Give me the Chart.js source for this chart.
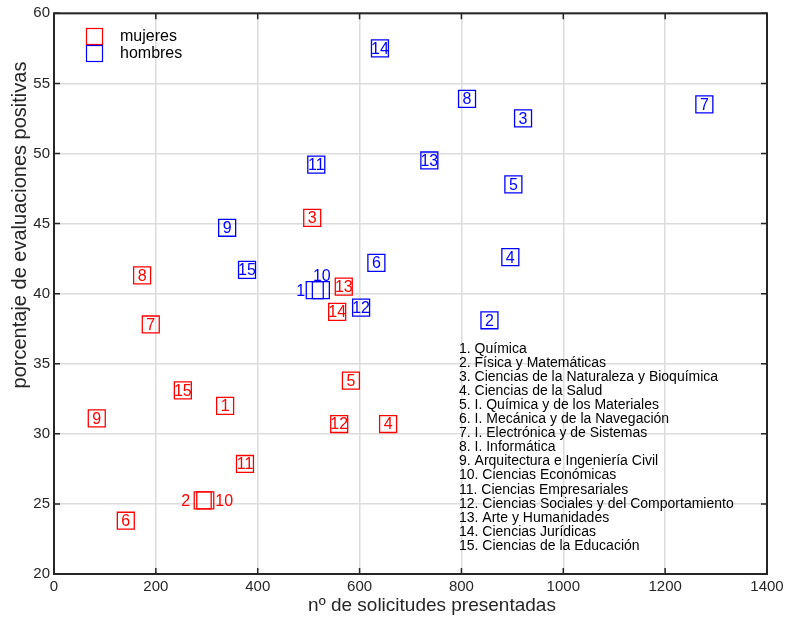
<!DOCTYPE html>
<html>
<head>
<meta charset="utf-8">
<script src="https://cdn.jsdelivr.net/npm/chart.js@4.4.0/dist/chart.umd.min.js"></script>
<style>
html, body { margin: 0; padding: 0; background: #fff; }
canvas { display: block; }
</style>
</head>
<body>
<canvas id="chart" width="790" height="621"></canvas>
<script>
// areas, numbered 1..15 in this order
const categories = [
	'Química',
	'Física y Matemáticas',
	'Ciencias de la Naturaleza y Bioquímica',
	'Ciencias de la Salud',
	'I. Química y de los Materiales',
	'I. Mecánica y de la Navegación',
	'I. Electrónica y de Sistemas',
	'I. Informática',
	'Arquitectura e Ingeniería Civil',
	'Ciencias Económicas',
	'Ciencias Empresariales',
	'Ciencias Sociales y del Comportamiento',
	'Arte y Humanidades',
	'Ciencias Jurídicas',
	'Ciencias de la Educación'
];

const mujeresSolicitudes = [336, 292, 507, 656, 583, 141, 190, 173, 84, 297, 375, 560, 569, 556, 253];
const mujeresPositivas   = [32.0, 25.25, 45.4, 30.7, 33.8, 23.8, 37.8, 41.3, 31.1, 25.25, 27.85, 30.7, 40.5, 38.7, 33.1];

const hombresSolicitudes = [512, 855, 921, 896, 902, 633, 1277, 811, 340, 524, 515, 603, 737, 640, 379];
const hombresPositivas   = [40.25, 38.1, 52.5, 42.6, 47.8, 42.2, 53.5, 53.9, 44.7, 40.25, 49.2, 39.0, 49.5, 57.5, 41.7];

const seriesNames = ['mujeres', 'hombres'];
const seriesColors = ['#ff0000', '#0000ff'];

const xTitle = 'nº de solicitudes presentadas';
const yTitle = 'porcentaje de evaluaciones positivas';

// a few labels sit beside their marker where two markers overlap
const labelShift = [
	{1: [-17, 0], 9: [19, 0]},
	{0: [-14, 0], 9: [1, -15]}
];

const FONT = "'Liberation Sans', Arial, sans-serif";

function toPoints(xs, ys){
	return xs.map((x, i) => ({x: x, y: ys[i]}));
}

const frame = {
	id: 'frame',
	afterDraw(chart){
		const ctx = chart.ctx;
		const a = chart.chartArea;
		ctx.save();
		ctx.strokeStyle = '#262626';
		ctx.lineWidth = 2;
		ctx.strokeRect(a.left, a.top, a.right - a.left, a.bottom - a.top);
		ctx.lineWidth = 1.5;
		ctx.beginPath();
		chart.scales.x.ticks.forEach((t) => {
			const px = chart.scales.x.getPixelForValue(t.value);
			ctx.moveTo(px, a.bottom); ctx.lineTo(px, a.bottom - 6);
			ctx.moveTo(px, a.top); ctx.lineTo(px, a.top + 6);
		});
		chart.scales.y.ticks.forEach((t) => {
			const py = chart.scales.y.getPixelForValue(t.value);
			ctx.moveTo(a.left, py); ctx.lineTo(a.left + 6, py);
			ctx.moveTo(a.right, py); ctx.lineTo(a.right - 6, py);
		});
		ctx.stroke();

		// axis titles (they sit a little off-centre in the original)
		ctx.fillStyle = '#262626';
		ctx.textAlign = 'center';
		ctx.textBaseline = 'middle';
		ctx.font = '19px ' + FONT;
		ctx.fillText(xTitle, 432, 606);
		ctx.translate(20, 225);
		ctx.rotate(-Math.PI / 2);
		ctx.font = '20px ' + FONT;
		ctx.fillText(yTitle, 0, 0);
		ctx.restore();
	}
};

const markLabels = {
	id: 'markLabels',
	afterDatasetsDraw(chart){
		const ctx = chart.ctx;
		ctx.save();
		ctx.font = '16px ' + FONT;
		ctx.textAlign = 'center';
		ctx.textBaseline = 'middle';
		chart.data.datasets.forEach((ds, i) => {
			ctx.fillStyle = seriesColors[i];
			chart.getDatasetMeta(i).data.forEach((pt, j) => {
				const shift = labelShift[i][j] || [0, 0];
				ctx.fillText(String(j + 1), pt.x + shift[0], pt.y + shift[1] + 1);
			});
		});
		ctx.restore();
	}
};

const notes = {
	id: 'notes',
	afterDraw(chart){
		const ctx = chart.ctx;
		ctx.save();
		// legend top-left
		ctx.lineWidth = 1.2;
		seriesNames.forEach((name, i) => {
			ctx.strokeStyle = seriesColors[i];
			ctx.strokeRect(86.5, 28.5 + i * 17, 16, 16);
			ctx.fillStyle = '#000';
			ctx.font = '16px ' + FONT;
			ctx.textBaseline = 'middle';
			ctx.fillText(name, 120, 37 + i * 17);
		});
		// key to the numbers
		ctx.font = '14px ' + FONT;
		ctx.fillStyle = '#000';
		categories.forEach((c, i) => {
			ctx.fillText((i + 1) + '. ' + c, 459, 349 + i * 14.07);
		});
		ctx.restore();
	}
};

new Chart(document.getElementById('chart'), {
	type: 'scatter',
	data: {
		datasets: seriesNames.map((name, i) => ({
			label: name,
			data: toPoints(i === 0 ? mujeresSolicitudes : hombresSolicitudes, i === 0 ? mujeresPositivas : hombresPositivas),
			pointStyle: 'rect',
			pointRadius: 12,
			pointHoverRadius: 12,
			borderWidth: 1.3,
			borderColor: seriesColors[i],
			backgroundColor: 'rgba(0,0,0,0)'
		}))
	},
	options: {
		responsive: false,
		animation: false,
		devicePixelRatio: 1,
		layout: {padding: {top: 13, right: 23, left: 0, bottom: 0}},
		plugins: {legend: {display: false}, tooltip: {enabled: false}},
		scales: {
			x: {
				type: 'linear',
				min: 0, max: 1400,
				ticks: {stepSize: 200, color: '#262626', font: {family: FONT, size: 15}, padding: 4, maxRotation: 0,
					callback: (v) => String(v)},
				grid: {color: '#dcdcdc', lineWidth: 1.5, drawTicks: false},
				border: {display: false},
				afterFit(scale){ scale.height = 47; }
			},
			y: {
				type: 'linear',
				min: 20, max: 60,
				ticks: {stepSize: 5, color: '#262626', font: {family: FONT, size: 15}, padding: 4,
					callback: (v) => String(v)},
				grid: {color: '#dcdcdc', lineWidth: 1.5, drawTicks: false},
				border: {display: false},
				afterFit(scale){ scale.width = 54; }
			}
		}
	},
	plugins: [frame, markLabels, notes]
});
</script>
</body>
</html>
